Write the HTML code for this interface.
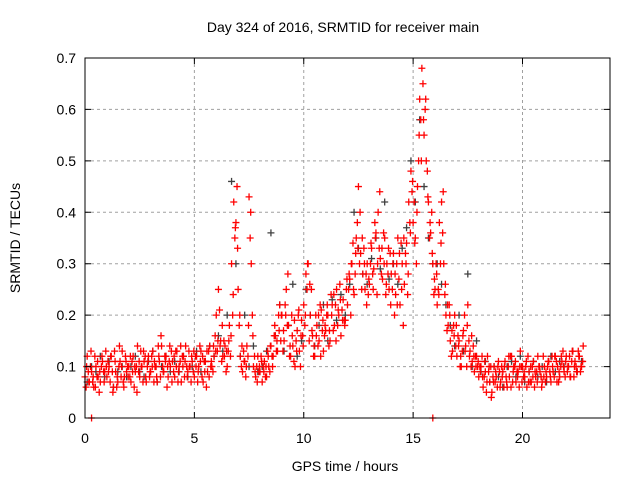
<!DOCTYPE html>
<html><head><meta charset="utf-8"><style>
body{margin:0;background:#fff;}
svg text{font-family:"Liberation Sans",sans-serif;font-size:14px;fill:#000;}
</style></head><body>
<svg id="chart" width="640" height="480" viewBox="0 0 640 480">
<rect width="640" height="480" fill="#fff"/>
<g id="grid"></g>
<g id="pts"></g>
<rect x="85" y="58" width="525" height="360" fill="none" stroke="#000" stroke-width="1"/>
<g id="ticks"></g>
<text x="343" y="32" text-anchor="middle">Day 324 of 2016, SRMTID for receiver main</text>
<text x="345" y="471" text-anchor="middle">GPS time / hours</text>
<text x="20" y="238" text-anchor="middle" transform="rotate(-90 20 238)">SRMTID / TECUs</text>
</svg>
<script>
const xTicks=[0,5,10,15,20];
const yTicks=[0,0.1,0.2,0.3,0.4,0.5,0.6,0.7];
const step1=0.1, step2=0.2;
const red1=[.08,.12,.07,.09,.06,.1,.08,.07,.11,.09,
.08,.1,.12,.06,.09,.07,.11,.13,.08,.09,
.1,.07,.12,.09,.14,.08,.1,.11,.07,.12,
.09,.13,.1,.07,.11,.14,.09,.12,.08,.1,
.11,.08,.13,.1,.07,.12,.14,.09,.1,.11,
.08,.12,.1,.13,.07,.11,.09,.14,.1,.12,
.2,.25,.15,.12,.14,.1,.18,.3,.42,.38,
.25,.12,.09,.11,.14,.43,.3,.1,.08,.12,
.09,.07,.11,.08,.1,.14,.12,.16,.13,.22,
.2,.15,.25,.18,.12,.14,.1,.17,.13,.19,
.22,.28,.3,.2,.16,.12,.18,.15,.21,.13,
.17,.2,.15,.22,.18,.25,.2,.16,.23,.19,
.22,.27,.3,.24,.35,.45,.32,.28,.25,.3,
.26,.33,.29,.36,.4,.31,.27,.35,.3,.25,
.28,.32,.24,.35,.22,.3,.26,.34,.42,.48,
.38,.35,.45,.62,.68,.55,.5,.42,.36,.3,
.25,.22,.38,.42,.3,.2,.18,.15,.13,.2,
.12,.15,.1,.17,.14,.22,.13,.11,.09,.12,
.08,.1,.06,.09,.12,.07,.05,.1,.08,.11,
.07,.09,.11,.06,.08,.12,.1,.07,.09,.13,
.1,.08,.06,.09,.07,.11,.08,.12,.09,.07,
.1,.08,.11,.07,.09,.12,.1,.08,.11,.09,
.12,.1,.08,.13,.11,.09,.12,.1];
const red2=[.06,.09,.1,.07,.12,.08,.05,.1,.09,.13,
.11,.07,.09,.13,.06,.1,.08,.07,.12,.1,
.08,.11,.06,.1,.09,.13,.07,.12,.1,.08,
.12,.07,.1,.14,.08,.1,.12,.06,.11,.13,
.09,.13,.07,.11,.12,.08,.1,.13,.07,.09,
.12,.07,.14,.08,.11,.06,.13,.1,.09,.16,
.13,.21,.11,.15,.09,.13,.12,.2,.35,.45,
.18,.1,.13,.08,.12,.35,.2,.12,.1,.09,
.12,.1,.08,.13,.09,.12,.16,.13,.2,.15,
.13,.22,.18,.12,.2,.11,.15,.2,.1,.16,
.18,.25,.15,.25,.12,.2,.14,.22,.17,.16,
.2,.14,.24,.17,.22,.18,.26,.21,.19,.25,
.25,.2,.34,.28,.38,.3,.25,.33,.28,.24,
.3,.28,.38,.24,.33,.28,.36,.24,.28,.32,
.25,.2,.3,.27,.34,.18,.32,.24,.38,.44,
.42,.3,.5,.58,.65,.6,.48,.35,.4,.24,
.3,.25,.3,.36,.24,.17,.22,.12,.18,.14,
.16,.1,.13,.2,.1,.15,.1,.14,.12,.1,
.1,.12,.08,.05,.09,.1,.08,.07,.06,.09,
.1,.06,.08,.1,.12,.07,.1,.09,.06,.1,
.08,.1,.12,.07,.1,.06,.09,.1,.08,.12,
.07,.1,.09,.12,.08,.11,.07,.1,.13,.08,
.09,.12,.11,.08,.1,.13,.09,.11];
const red3=[.1,.07,.13,.08,.06,.11,.09,.12,.07,.1,
.09,.12,.05,.11,.08,.14,.1,.06,.11,.08,
.12,.09,.1,.05,.11,.1,.13,.08,.11,.09,
.1,.11,.08,.12,.16,.09,.11,.1,.14,.07,
.12,.1,.09,.14,.1,.11,.08,.1,.12,.13,
.1,.09,.11,.12,.09,.13,.08,.11,.14,.13,
.15,.14,.18,.12,.13,.15,.16,.24,.37,.33,
.2,.14,.11,.1,.18,.4,.16,.09,.07,.1,
.11,.09,.1,.12,.14,.1,.18,.15,.17,.2,
.17,.2,.28,.14,.16,.19,.13,.21,.16,.14,
.2,.3,.26,.17,.14,.16,.2,.12,.19,.18,
.22,.17,.2,.24,.15,.21,.23,.19,.18,.27,
.28,.3,.25,.32,.33,.4,.35,.3,.22,.27,
.34,.25,.35,.3,.44,.33,.3,.26,.33,.22,
.3,.28,.22,.32,.25,.35,.3,.28,.36,.46,
.34,.4,.55,.5,.58,.62,.43,.38,.32,.27,
.28,.24,.34,.44,.26,.22,.2,.17,.16,.18,
.14,.12,.16,.13,.18,.12,.16,.12,.1,.11,
.09,.08,.11,.07,.1,.04,.07,.09,.1,.06,
.08,.1,.07,.12,.06,.09,.11,.08,.1,.07,
.09,.11,.07,.1,.08,.09,.07,.1,.06,.08,
.09,.11,.08,.1,.12,.07,.09,.12,.1,.11,
.1,.08,.13,.1,.09,.12,.1,.14];
const black=[.07,.1,.09,.12,.08,.11,.06,.09,.1,.08,
.1,.12,.09,.08,.11,.13,.07,.1,.12,.09,
.11,.09,.12,.08,.1,.13,.09,.11,.14,.12,
.16,.13,.2,.46,.3,.12,.2,.1,.14,.09,
.1,.13,.36,.16,.22,.13,.18,.26,.12,.15,
.25,.2,.14,.18,.22,.15,.23,.19,.24,.2,
.26,.4,.33,.28,.26,.31,.35,.29,.42,.27,
.3,.26,.33,.37,.5,.42,.58,.45,.35,.3,
.3,.26,.22,.18,.14,.2,.13,.28,.1,.15,
.09,.11,.07,.1,.08,.06,.1,.11,.08,.12,
.07,.09,.11,.08,.1,.07,.12,.09,.11,.1,
.1,.13,.09,.11];
const zeroHours=[0.3,15.9];
const X=h=>85+h*(525/24), Y=v=>418-v*(360/0.7);
const NS="http://www.w3.org/2000/svg";
const grid=document.getElementById('grid'),ticks=document.getElementById('ticks'),pts=document.getElementById('pts');
function mk(t,a,p){const e=document.createElementNS(NS,t);for(const k in a)e.setAttribute(k,a[k]);p.appendChild(e);return e;}
xTicks.forEach(t=>{const x=X(t);
 if(t>0){const g=mk('line',{x1:x,x2:x,y1:58,y2:418,stroke:'#a0a0a0','stroke-dasharray':'3,3'},grid);
 }
 const tk=mk('path',{d:`M${x} 418v-6M${x} 58v6`,stroke:'#000'},ticks);
 
 const l=mk('text',{x:x,y:443,'text-anchor':'middle'},ticks);l.textContent=t;
 });
yTicks.forEach(t=>{const y=Y(t);
 if(t>0&&t<0.7){const g=mk('line',{x1:85,x2:610,y1:y,y2:y,stroke:'#a0a0a0','stroke-dasharray':'3,3'},grid);
 }
 const tk=mk('path',{d:`M85 ${y}h6M610 ${y}h-6`,stroke:'#000'},ticks);
 
 const l=mk('text',{x:76,y:y+5,'text-anchor':'end'},ticks);l.textContent=t;
 });
function plus(h,v,c,name){const x=X(h),y=Y(v);
 const p=mk('path',{d:`M${x-3.5} ${y}h7M${x} ${y-3.5}v7`,stroke:c,'stroke-width':1.3},pts);
 }
black.forEach((v,i)=>plus(i*step2+0.1,v,'#404040','black-point'));
red1.forEach((v,i)=>plus(i*step1,v,'#ff0000','red-point'));
red2.forEach((v,i)=>plus(i*step1+0.05,v,'#ff0000','red-point'));
red3.forEach((v,i)=>plus(i*step1+0.075,v,'#ff0000','red-point'));
zeroHours.forEach(h=>plus(h,0,'#ff0000','red-zero-point'));
</script>
</body></html>
